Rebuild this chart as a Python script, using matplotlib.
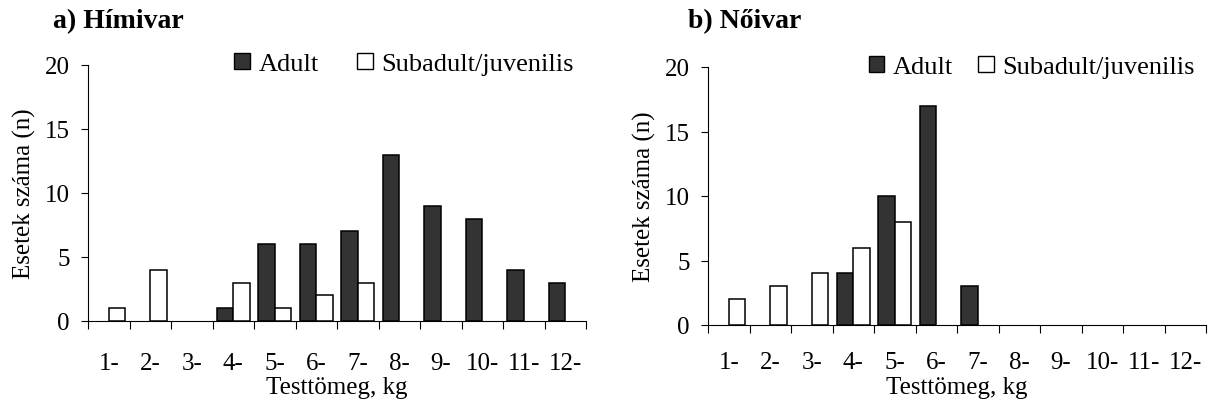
import matplotlib
matplotlib.use("Agg")
import matplotlib.pyplot as plt
from matplotlib.patches import Patch
import numpy as np

plt.rcParams['font.family'] = ['Liberation Serif', 'DejaVu Serif']

categories = ["1-", "2-", "3-", "4-", "5-", "6-", "7-", "8-", "9-", "10-", "11-", "12-"]
male_adult = [0, 0, 0, 1, 6, 6, 7, 13, 9, 8, 4, 3]
male_sub = [1, 4, 0, 3, 1, 2, 3, 0, 0, 0, 0, 0]
female_adult = [0, 0, 0, 4, 10, 17, 3, 0, 0, 0, 0, 0]
female_sub = [2, 3, 4, 6, 8, 0, 0, 0, 0, 0, 0, 0]
titles = ["a) Hímivar", "b) Nőivar"]
series_names = ["Adult", "Subadult/juvenilis"]
ylabel = "Esetek száma (n)"
xlabel = "Testtömeg, kg"

W, H = 1208, 410
fig = plt.figure(figsize=(W / 100, H / 100), dpi=100)

DARK = "#333333"
FS = 18

panels = [
    dict(adult=male_adult, sub=male_sub, rect=(88, 322, 498, 256), title_x=53,
         leg_right=574, leg_y=65, colsp=1.45, tickpad=22),
    dict(adult=female_adult, sub=female_sub, rect=(708, 326, 498, 258), title_x=688,
         leg_right=1195, leg_y=68, colsp=0.95, tickpad=19),
]

x = np.arange(1, len(categories) + 1)
bw = 0.4

for p, title in zip(panels, titles):
    l, b, w, h = p["rect"]
    ax = fig.add_axes([l / W, (H - b) / H, w / W, h / H])
    adult = np.array(p["adult"])
    sub = np.array(p["sub"])
    ma = adult > 0
    ms = sub > 0
    ax.bar(x[ma] - bw / 2, adult[ma], width=bw, color=DARK, edgecolor="black", linewidth=1.1, zorder=3)
    ax.bar(x[ms] + bw / 2, sub[ms], width=bw, color="white", edgecolor="black", linewidth=1.1, zorder=3)

    ax.set_xlim(0.5, 12.5)
    ax.set_ylim(0, 20)
    ax.set_yticks([0, 5, 10, 15, 20])
    ax.set_xticks(np.arange(0.5, 13, 1))
    ax.set_xticklabels([])
    ax.set_xticks(x, minor=True)
    ax.set_xticklabels(categories, minor=True, fontsize=FS)
    ax.tick_params(axis="x", which="major", length=6, width=0.8, direction="out")
    ax.tick_params(axis="x", which="minor", length=0, pad=p["tickpad"])
    ax.tick_params(axis="y", length=5, width=0.8, direction="out", pad=8, labelsize=FS)
    for s in ["top", "right"]:
        ax.spines[s].set_visible(False)
    for s in ["left", "bottom"]:
        ax.spines[s].set_linewidth(0.8)
        ax.spines[s].set_color("black")

    ax.set_xlabel(xlabel, fontsize=FS, labelpad=2)
    ax.set_ylabel(ylabel, fontsize=FS)
    ax.yaxis.set_label_coords(-52 / w, 0.5)

    handles = [Patch(facecolor=DARK, edgecolor="black", linewidth=1.0),
               Patch(facecolor="white", edgecolor="black", linewidth=1.0)]
    ax.legend(handles, series_names, loc="center right",
              bbox_to_anchor=(p["leg_right"] / W, (H - p["leg_y"]) / H),
              bbox_transform=fig.transFigure, ncol=2, frameon=False,
              fontsize=19, handlelength=0.6, handleheight=0.6, handletextpad=0.32,
              columnspacing=p["colsp"], borderpad=0, borderaxespad=0)

    fig.text(p["title_x"] / W, (H - 28) / H, title, fontsize=20, fontweight="bold",
             ha="left", va="baseline")

fig.savefig("out.png", dpi=100)
